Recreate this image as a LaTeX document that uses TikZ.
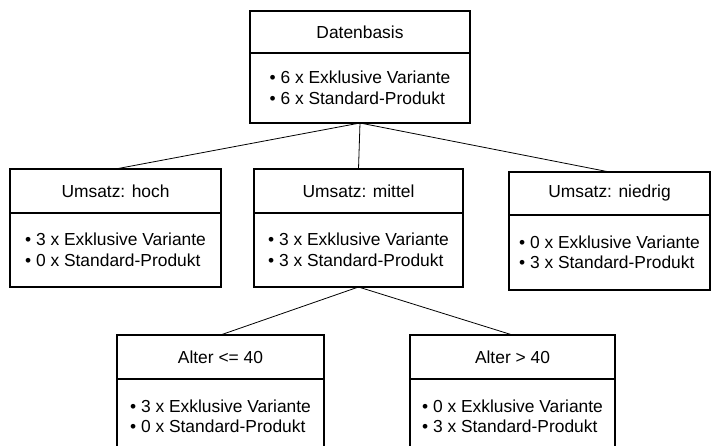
\documentclass[tikz,border=0pt]{standalone}
\usepackage{fontspec}
\setmainfont{Liberation Sans}
\usetikzlibrary{positioning}

\tikzset{
  kopf/.style={draw, line width=1.2pt, outer sep=0pt, inner sep=0pt, minimum height=44},
  liste/.style={draw, line width=1.2pt, outer sep=0pt, inner sep=0pt, align=left, minimum height=74},
  ast/.style={line width=0.8pt}
}

\begin{document}
\begin{tikzpicture}[x=1pt, y=-1pt, node distance=0pt, font=\fontsize{17.4}{20.5}\selectfont]
    \useasboundingbox (0,0) rectangle (713,446);
    \clip (0,0) rectangle (713,446);

    %define the boxes of the tree
    \node[kopf, minimum width=220, minimum height=42] (basis) at (360,32) {Datenbasis};
    \node[liste, minimum width=220, minimum height=70] (basis-l) [below=of basis]
        {• 6 x Exklusive Variante\\• 6 x Standard-Produkt};

    \node[kopf, minimum width=211] (hoch) at (115.5,191) {Umsatz: hoch};
    \node[liste, minimum width=211] (hoch-l) [below=of hoch]
        {• 3 x Exklusive Variante\\• 0 x Standard-Produkt};

    \node[kopf, minimum width=209] (mittel) at (358.5,191) {Umsatz: mittel};
    \node[liste, minimum width=209] (mittel-l) [below=of mittel]
        {• 3 x Exklusive Variante\\• 3 x Standard-Produkt};

    \node[kopf, minimum width=201, minimum height=43] (niedrig) at (609.5,193.5) {Umsatz: niedrig};
    \node[liste, minimum width=201, minimum height=75] (niedrig-l) [below=of niedrig]
        {• 0 x Exklusive Variante\\• 3 x Standard-Produkt};

    \node[kopf, minimum width=207] (jung) at (220.5,357) {Alter <= 40};
    \node[liste, minimum width=207, minimum height=75] (jung-l) [below=of jung]
        {• 3 x Exklusive Variante\\• 0 x Standard-Produkt};

    \node[kopf, minimum width=205] (alt) at (512.5,357) {Alter > 40};
    \node[liste, minimum width=205, minimum height=75] (alt-l) [below=of alt]
        {• 0 x Exklusive Variante\\• 3 x Standard-Produkt};

    %define the branches
    \path[ast] (basis-l.south) edge (hoch.north)
                               edge (mittel.north)
                               edge (niedrig.north)
               (mittel-l.south) edge (jung.north)
                                edge (alt.north);
\end{tikzpicture}
\end{document}
